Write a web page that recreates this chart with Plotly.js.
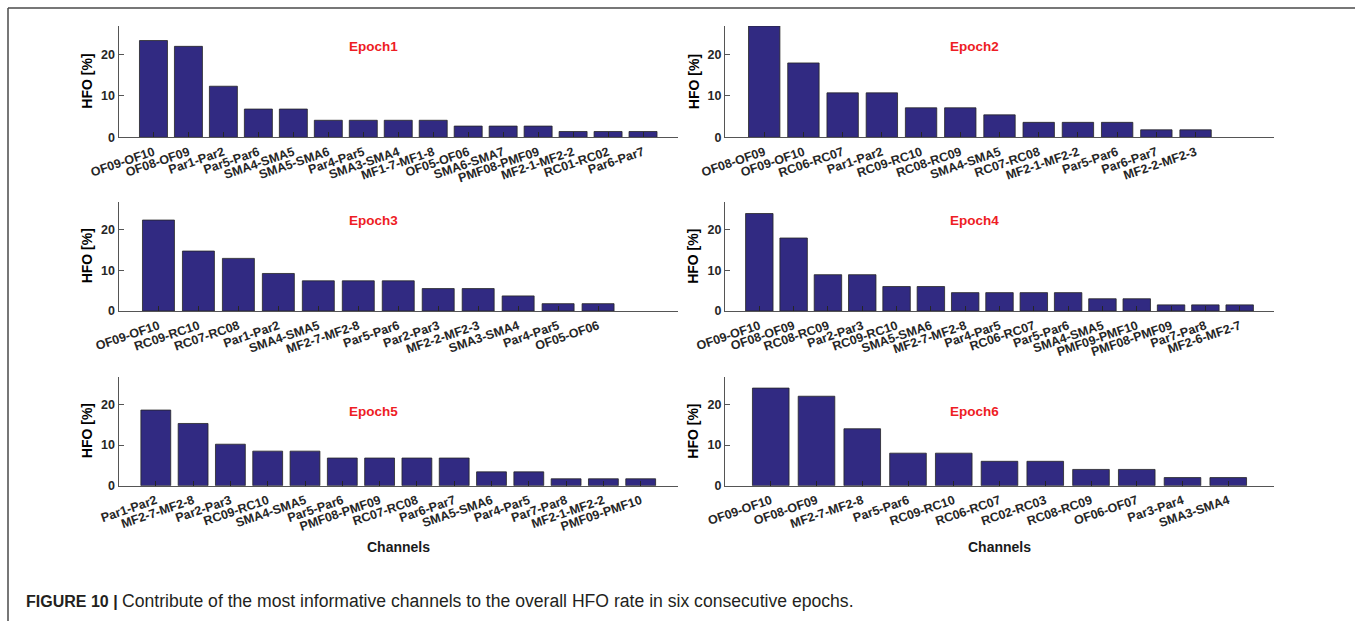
<!DOCTYPE html>
<html>
<head>
<meta charset="utf-8">
<script src="https://cdn.plot.ly/plotly-3.0.1.min.js"></script>
<style>
  html, body { margin: 0; padding: 0; background: #ffffff; }
  #chart { width: 1355px; height: 621px; }
</style>
</head>
<body>
<div id="chart"></div>
<script>
// HFO contribution (%) of the most informative channels, one list per epoch
const epoch1Channels = ['OF09-OF10','OF08-OF09','Par1-Par2','Par5-Par6','SMA4-SMA5','SMA5-SMA6','Par4-Par5','SMA3-SMA4','MF1-7-MF1-8','OF05-OF06','SMA6-SMA7','PMF08-PMF09','MF2-1-MF2-2','RC01-RC02','Par6-Par7'];
const epoch1Values   = [23.3, 21.9, 12.3, 6.8, 6.8, 4.1, 4.1, 4.1, 4.1, 2.7, 2.7, 2.7, 1.4, 1.4, 1.4];

const epoch2Channels = ['OF08-OF09','OF09-OF10','RC06-RC07','Par1-Par2','RC09-RC10','RC08-RC09','SMA4-SMA5','RC07-RC08','MF2-1-MF2-2','Par5-Par6','Par6-Par7','MF2-2-MF2-3'];
const epoch2Values   = [26.8, 17.9, 10.7, 10.7, 7.1, 7.1, 5.4, 3.6, 3.6, 3.6, 1.8, 1.8];

const epoch3Channels = ['OF09-OF10','RC09-RC10','RC07-RC08','Par1-Par2','SMA4-SMA5','MF2-7-MF2-8','Par5-Par6','Par2-Par3','MF2-2-MF2-3','SMA3-SMA4','Par4-Par5','OF05-OF06'];
const epoch3Values   = [22.3, 14.7, 12.9, 9.2, 7.4, 7.4, 7.4, 5.5, 5.5, 3.7, 1.8, 1.8];

const epoch4Channels = ['OF09-OF10','OF08-OF09','RC08-RC09','Par2-Par3','RC09-RC10','SMA5-SMA6','MF2-7-MF2-8','Par4-Par5','RC06-RC07','Par5-Par6','SMA4-SMA5','PMF09-PMF10','PMF08-PMF09','Par7-Par8','MF2-6-MF2-7'];
const epoch4Values   = [23.9, 17.9, 8.9, 8.9, 6.0, 6.0, 4.5, 4.5, 4.5, 4.5, 3.0, 3.0, 1.5, 1.5, 1.5];

const epoch5Channels = ['Par1-Par2','MF2-7-MF2-8','Par2-Par3','RC09-RC10','SMA4-SMA5','Par5-Par6','PMF08-PMF09','RC07-RC08','Par6-Par7','SMA5-SMA6','Par4-Par5','Par7-Par8','MF2-1-MF2-2','PMF09-PMF10'];
const epoch5Values   = [18.6, 15.3, 10.2, 8.5, 8.5, 6.8, 6.8, 6.8, 6.8, 3.4, 3.4, 1.7, 1.7, 1.7];

const epoch6Channels = ['OF09-OF10','OF08-OF09','MF2-7-MF2-8','Par5-Par6','RC09-RC10','RC06-RC07','RC02-RC03','RC08-RC09','OF06-OF07','Par3-Par4','SMA3-SMA4'];
const epoch6Values   = [24, 22, 14, 8, 8, 6, 6, 4, 4, 2, 2];

const epochTitles = ['Epoch1','Epoch2','Epoch3','Epoch4','Epoch5','Epoch6'];
const yTickValues = [0, 10, 20];
const yTitle = 'HFO [%]';
const xTitle = 'Channels';
const captionLabel = 'FIGURE 10 |';
const captionText = 'Contribute of the most informative channels to the overall HFO rate in six consecutive epochs.';

const epochs = [
  { channels: epoch1Channels, values: epoch1Values },
  { channels: epoch2Channels, values: epoch2Values },
  { channels: epoch3Channels, values: epoch3Values },
  { channels: epoch4Channels, values: epoch4Values },
  { channels: epoch5Channels, values: epoch5Values },
  { channels: epoch6Channels, values: epoch6Values }
];

// page geometry (pixels)
const W = 1355, H = 621;
const colPx = [[118.5, 678], [725, 1274]];
const rowPx = [[26, 137.3], [201.7, 311], [376.7, 485.7]];
// number of empty slots kept after the last bar of each panel
const tailSlots = [1, 2, 2, 1, 1, 1];
const titleY = [46, 46, 220, 220, 411.7, 411.7];

const px = v => v / W;
const py = v => 1 - v / H;

const FONT = 'Liberation Sans, Arial, sans-serif';
const barColor = '#312a82';

const data = [];
const layout = {
  width: W, height: H,
  margin: { l: 0, r: 0, t: 0, b: 0 },
  paper_bgcolor: '#ffffff',
  plot_bgcolor: 'rgba(0,0,0,0)',
  showlegend: false,
  bargap: 0.2,
  font: { family: FONT, color: '#262626' },
  annotations: [],
  shapes: []
};

epochs.forEach((ep, i) => {
  const col = i % 2, row = Math.floor(i / 2);
  const sfx = i === 0 ? '' : String(i + 1);
  data.push({
    type: 'bar',
    x: ep.channels,
    y: ep.values,
    xaxis: 'x' + sfx,
    yaxis: 'y' + sfx,
    marker: { color: barColor, line: { color: '#262626', width: 0.8 } },
    hoverinfo: 'x+y'
  });
  layout['xaxis' + sfx] = {
    domain: [px(colPx[col][0]), px(colPx[col][1])],
    anchor: 'y' + sfx,
    type: 'category',
    range: [-1, ep.channels.length - 1 + tailSlots[i]],
    showline: true, linecolor: '#555555', linewidth: 1,
    showgrid: false, zeroline: false,
    ticks: 'inside', ticklen: 5, tickwidth: 1, tickcolor: '#262626',
    tickangle: -19,
    ticklabelstandoff: 2,
    tickfont: { family: FONT, size: 12.5, weight: 'bold', color: '#262626' },
    fixedrange: true
  };
  layout['yaxis' + sfx] = {
    domain: [py(rowPx[row][1]), py(rowPx[row][0])],
    anchor: 'x' + sfx,
    range: [0, 26.8],
    tickvals: yTickValues,
    showline: true, linecolor: '#555555', linewidth: 1,
    showgrid: false, zeroline: false,
    ticks: 'inside', ticklen: 5, tickwidth: 1, tickcolor: '#555555',
    tickfont: { family: FONT, size: 12.5, weight: 'bold', color: '#262626' },
    fixedrange: true
  };
  // red epoch label inside each panel
  layout.annotations.push({
    text: '<b>' + epochTitles[i] + '</b>',
    xref: 'paper', yref: 'paper',
    x: px(colPx[col][0] + 0.455 * (colPx[col][1] - colPx[col][0])),
    y: py(titleY[i]),
    xanchor: 'center', yanchor: 'middle', showarrow: false,
    font: { family: FONT, size: 13.5, color: '#ee1c24' }
  });
  // vertical axis title
  layout.annotations.push({
    text: '<b>' + yTitle + '</b>',
    xref: 'paper', yref: 'paper',
    x: px(colPx[col][0] - 31.5),
    y: py((rowPx[row][0] + rowPx[row][1]) / 2),
    xanchor: 'center', yanchor: 'middle', showarrow: false, textangle: -90,
    font: { family: FONT, size: 14, color: '#000000' }
  });
});

// horizontal axis titles under the bottom row
[0, 1].forEach(col => {
  layout.annotations.push({
    text: '<b>' + xTitle + '</b>',
    xref: 'paper', yref: 'paper',
    x: px((colPx[col][0] + colPx[col][1]) / 2),
    y: py(547),
    xanchor: 'center', yanchor: 'middle', showarrow: false,
    font: { family: FONT, size: 14, color: '#1a1a1a' }
  });
});

// figure caption
layout.annotations.push({
  text: '<b>' + captionLabel + '</b> <span style="font-size:17.6px">' + captionText + '</span>',
  xref: 'paper', yref: 'paper',
  x: px(24), y: py(601),
  xanchor: 'left', yanchor: 'middle', showarrow: false,
  font: { family: FONT, size: 16, color: '#231f20' }
});

// frame: top rule and left rule
layout.shapes.push(
  { type: 'line', xref: 'paper', yref: 'paper', x0: px(8), x1: 1, y0: py(8), y1: py(8), line: { color: '#4a4a4a', width: 1.5 } },
  { type: 'line', xref: 'paper', yref: 'paper', x0: px(8), x1: px(8), y0: py(8), y1: 0, line: { color: '#4a4a4a', width: 1.5 } }
);

Plotly.newPlot('chart', data, layout, { displayModeBar: false, staticPlot: true });
</script>
</body>
</html>
